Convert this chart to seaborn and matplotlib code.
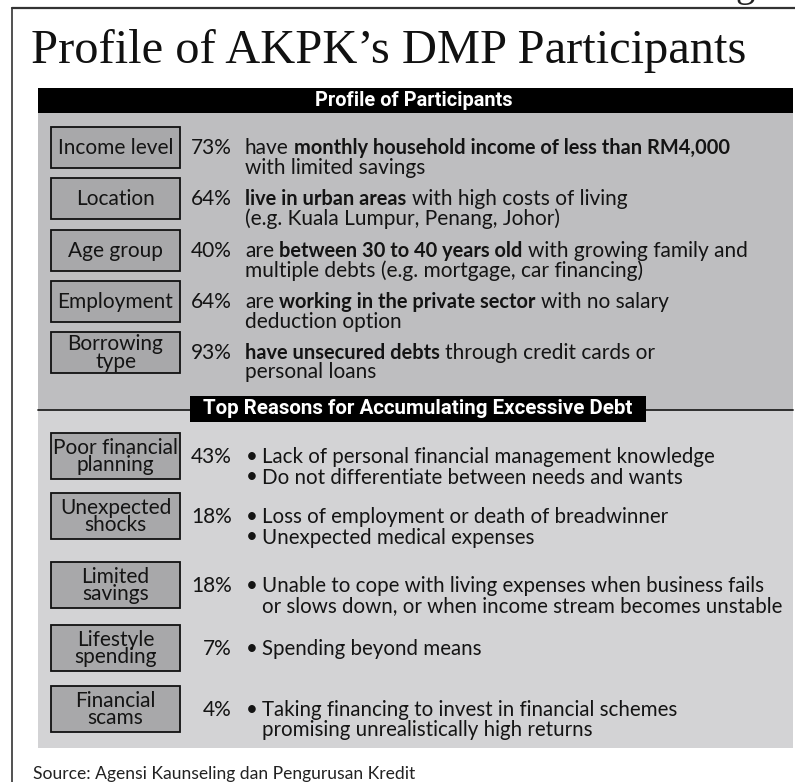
import numpy as np
import pandas as pd
import matplotlib.pyplot as plt
import matplotlib.patches as mpatches
import seaborn as sns

# chart content
title = "Profile of AKPK\u2019s DMP Participants"
header_top = "Profile of Participants"
header_bottom = "Top Reasons for Accumulating Excessive Debt"
source = "Source: Agensi Kaunseling dan Pengurusan Kredit"

profile_labels = ["Income level", "Location", "Age group", "Employment", "Borrowing\ntype"]
profile_pcts = [73, 64, 40, 64, 93]
# each line is a list of (text, bold) runs
profile_lines = [
    [[("have", False), ("monthly household income of less than RM4,000", True)],
     [("with limited savings", False)]],
    [[("live in urban areas", True), ("with high costs of living", False)],
     [("(e.g. Kuala Lumpur, Penang, Johor)", False)]],
    [[("are", False), ("between 30 to 40 years old", True), ("with growing family and", False)],
     [("multiple debts (e.g. mortgage, car financing)", False)]],
    [[("are", False), ("working in the private sector", True), ("with no salary", False)],
     [("deduction option", False)]],
    [[("have unsecured debts", True), ("through credit cards or", False)],
     [("personal loans", False)]],
]

reason_labels = ["Poor financial\nplanning", "Unexpected\nshocks", "Limited\nsavings",
                 "Lifestyle\nspending", "Financial\nscams"]
reason_pcts = [43, 18, 18, 7, 4]
reason_bullets = [
    ["Lack of personal financial management knowledge",
     "Do not differentiate between needs and wants"],
    ["Loss of employment or death of breadwinner",
     "Unexpected medical expenses"],
    ["Unable to cope with living expenses when business fails\nor slows down, or when income stream becomes unstable"],
    ["Spending beyond means"],
    ["Taking financing to invest in financial schemes\npromising unrealistically high returns"],
]

# layout (pixels, y down)
W, H = 795, 782
profile_tops = [127, 178, 230, 281, 332]
reason_tops = [433, 493, 562, 625, 686]

sns.set_theme(style="white")
body = ['Lato', 'DejaVu Sans']
narrow = ['Liberation Sans Narrow', 'Roboto', 'DejaVu Sans']
plt.rcParams['font.family'] = body

fig = plt.figure(figsize=(W / 100, H / 100), dpi=100)
ax = fig.add_axes([0, 0, 1, 1])
ax.set_xlim(0, W)
ax.set_ylim(H, 0)
ax.axis('off')
renderer = fig.canvas.get_renderer()

FS_REG = 15.0   # regular body text
FS_BOLD = 14.4  # bold runs (Lato bold is wide)
FS_LOW = 14.8   # bullet text
FS_LAB = 15.0   # label boxes
upper_bg = '#bebec0'
lower_bg = '#d3d3d5'
box_bg = '#a8a8aa'
ink = '#141414'
RIGHT = 793

# outer frame
ax.plot([12, 12], [8, H], color='#333333', lw=1.2)
ax.plot([12, W], [8, 8], color='#333333', lw=1.6)
ax.text(745, -4, "g", family='Liberation Serif', fontsize=28, color='#222222',
        va='baseline', ha='center', clip_on=False)

ax.text(31, 51, title, family='Liberation Serif', fontsize=34.9, color='#111111',
        va='center', ha='left')

# panels
ax.add_patch(mpatches.Rectangle((38, 113), RIGHT - 38, 297, color=upper_bg, lw=0))
ax.add_patch(mpatches.Rectangle((38, 410), RIGHT - 38, 338, color=lower_bg, lw=0))
ax.add_patch(mpatches.Rectangle((38, 88), RIGHT - 38, 25, color='black', lw=0))
ax.text(414, 100.5, header_top, color='white', family=narrow, fontweight='bold',
        fontsize=14.4, ha='center', va='center')
ax.plot([38, RIGHT], [410, 410], color='#222222', lw=1.3)
ax.add_patch(mpatches.Rectangle((190, 396), 456, 26, color='black', lw=0, zorder=3))
ax.text(418, 409, header_bottom, color='white', family=narrow, fontweight='bold',
        fontsize=14.8, ha='center', va='center', zorder=4)


def text_width(s, bold=False, fs=FS_REG):
    t = ax.text(0, 0, s, fontsize=fs, fontweight='bold' if bold else 'normal')
    w = t.get_window_extent(renderer).width
    t.remove()
    return w


def draw_runs(x, y, runs):
    sp = text_width("x x", False, FS_REG) - text_width("xx", False, FS_REG)
    for txt, bold in runs:
        fs = FS_BOLD if bold else FS_REG
        ax.text(x, y, txt, fontsize=fs, fontweight='bold' if bold else 'normal',
                color=ink, va='center', ha='left')
        x += text_width(txt, bold, fs) + sp


def label_box(top, height, label):
    ax.add_patch(mpatches.Rectangle((51, top), 129, height, facecolor=box_bg,
                                    edgecolor='#111111', lw=1.3))
    ax.text(115.5, top + height / 2 + 0.5, label, fontsize=FS_LAB, color=ink,
            ha='center', va='center', linespacing=0.82)


# profile of participants
for top, lab, pct, lines in zip(profile_tops, profile_labels, profile_pcts, profile_lines):
    label_box(top, 41, lab)
    y0 = top + 21
    ax.text(232, y0, f"{pct}%", fontsize=FS_REG, color=ink, ha='right', va='center')
    for k, runs in enumerate(lines):
        draw_runs(245, y0 + 19.5 * k, runs)

# top reasons
for top, lab, pct, bullets in zip(reason_tops, reason_labels, reason_pcts, reason_bullets):
    label_box(top, 46, lab)
    y0 = top + 24
    ax.text(232, y0, f"{pct}%", fontsize=FS_REG, color=ink, ha='right', va='center')
    k = 0
    for b in bullets:
        ax.text(252, y0 + 20.5 * k, "\u2022", fontsize=FS_LOW, color=ink, ha='center', va='center')
        for line in b.split("\n"):
            ax.text(262, y0 + 20.5 * k, line, fontsize=FS_LOW, color=ink, ha='left', va='center')
            k += 1

ax.text(33, 774, source, fontsize=12.6, color='#222222', ha='left', va='center')

fig.savefig('out.png', dpi=100)
